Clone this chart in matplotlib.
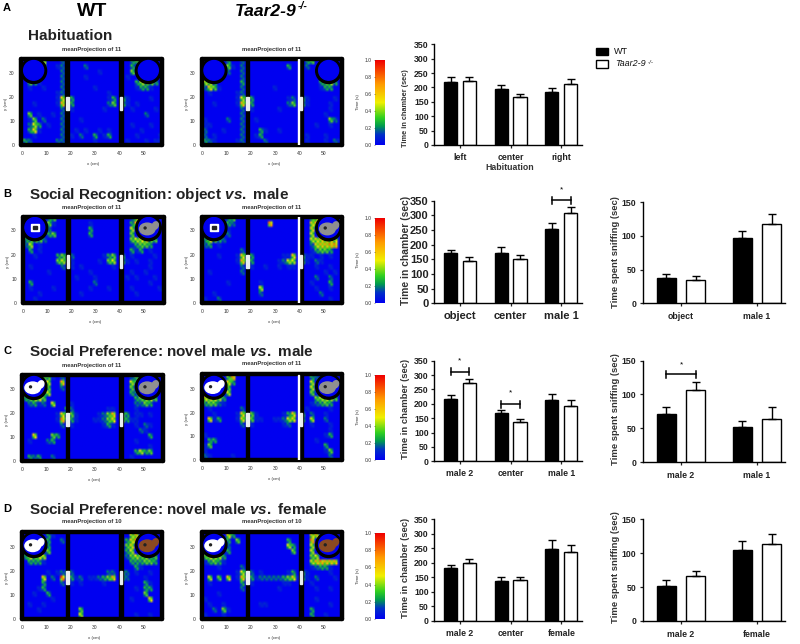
import numpy as np
import matplotlib
matplotlib.use("Agg")
import matplotlib.pyplot as plt
from matplotlib.colors import LinearSegmentedColormap
from matplotlib.patches import Circle, Ellipse, Rectangle

plt.rcParams["font.family"] = ["Liberation Sans", "DejaVu Sans"]
plt.rcParams["mathtext.fontset"] = "custom"
plt.rcParams["mathtext.rm"] = "Liberation Sans:bold"
plt.rcParams["mathtext.it"] = "Liberation Sans:italic:bold"

W, H = 800, 644

# Time in chamber: bar height and upper error
chamber_labels = [["left", "center", "right"],
                  ["object", "center", "male 1"],
                  ["male 2", "center", "male 1"],
                  ["male 2", "center", "female"]]
chamber_wt = [[220, 195, 183], [172, 170, 255], [218, 167, 215], [182, 137, 249]]
chamber_wt_err = [[18, 13, 15], [9, 22, 18], [14, 13, 20], [10, 16, 29]]
chamber_ko = [[224, 166, 212], [145, 150, 307], [271, 135, 191], [201, 141, 238]]
chamber_ko_err = [[14, 10, 16], [13, 15, 23], [17, 11, 24], [12, 9, 23]]

# Time spent sniffing (panels B, C, D)
sniff_labels = [["object", "male 1"], ["male 2", "male 1"], ["male 2", "female"]]
sniff_wt = [[37, 97], [71, 52], [52, 104]]
sniff_wt_err = [[7, 10], [10, 9], [9, 14]]
sniff_ko = [[35, 118], [106, 63], [66, 114]]
sniff_ko_err = [[5, 15], [12, 18], [8, 14]]

time_ticks = [0, 50, 100, 150, 200, 250, 300, 350]
sniff_ticks = [0, 50, 100, 150]

# columns: left chamber | wall | center chamber | wall | right chamber
heat_a_wt = [
    "000050002 0 00000000000 0 03400000",
    "000040012 0 00020000000 0 03000000",
    "000020002 0 00000010000 0 04000000",
    "010000002 0 00010000000 0 10000000",
    "043100002 0 00000000000 0 00354430",
    "010010002 0 00000100000 0 00133100",
    "000000012 0 00000000100 0 00000000",
    "000000016 3 30000000130 3 10000100",
    "001000017 3 30000000240 3 10100000",
    "000000002 0 10000001000 0 01000010",
    "040100102 0 00000000000 0 00002000",
    "014020002 0 00100000000 0 00000000",
    "025301002 0 00000000000 0 01000100",
    "036100002 0 01010010100 0 00010000",
    "001000002 0 10200301300 0 00100001",
    "320000022 0 00000100000 0 10001011",
]
heat_a_ko = [
    "000003002 0 00000000000 0 34000000",
    "000004102 0 00000000300 0 20000000",
    "000002002 0 00000000000 0 00000000",
    "010000002 0 00000000000 0 00000000",
    "553000003 0 00000000000 0 00034530",
    "264100002 0 00000100000 0 00013300",
    "010000012 0 00000000000 0 00000000",
    "000000015 3 30000000120 3 10000010",
    "001000017 3 30000000240 3 10000100",
    "000000002 0 10000010000 0 00000100",
    "000000002 0 00000000000 0 00001000",
    "100002002 0 01000000000 0 00000420",
    "110000002 0 00000000000 0 00100100",
    "200010002 0 00310010000 0 00000000",
    "201000002 0 01300000000 0 10001000",
    "321000012 0 00020000000 0 10001021",
]
heat_b_wt = [
    "000003400 0 00000000000 0 02600000",
    "000004100 0 00001000000 0 03700000",
    "000002000 0 00003000000 0 05000000",
    "010003400 0 00003000000 0 04000000",
    "344420000 0 00000000000 0 04566440",
    "250100000 0 00000000000 0 01344300",
    "030100000 0 00000000000 0 03130100",
    "001000034 3 20000001340 3 01000010",
    "000000045 3 10000010450 3 10100100",
    "010000002 0 10100000010 0 00000100",
    "000001000 0 00001000000 0 01001000",
    "000000000 0 01000100000 0 10100010",
    "030000000 0 00000200000 0 00000100",
    "010000100 0 00001000100 0 01000001",
    "000100000 0 00100000000 0 00100000",
    "001000000 0 00000000000 0 00000000",
]
heat_b_ko = [
    "000003400 0 00000000000 0 04600000",
    "000003200 0 00008000000 0 06700000",
    "000001000 0 00000000000 0 06000000",
    "100002000 0 00000000000 0 05000000",
    "364320000 0 00000000000 0 05677760",
    "230100000 0 00000000000 0 02677880",
    "000000002 0 00000000000 0 01344300",
    "000100016 3 30000001160 3 11010100",
    "000000017 3 30000012550 3 10210000",
    "000000002 0 10010010110 0 00100100",
    "010000002 0 00000000000 0 00001010",
    "000000000 0 00000000000 0 00200200",
    "000001000 0 00100000000 0 01000300",
    "000000000 0 00500000000 0 00100100",
    "001000000 0 00200000000 0 00020000",
    "100200000 0 00000000000 0 00000100",
]
heat_c_wt = [
    "000044102 0 00000000000 0 02400000",
    "000005007 0 00000000000 0 05300000",
    "000034002 0 00000000000 0 04000000",
    "010035000 0 00000000000 0 03200000",
    "345640000 0 00000000000 0 00345540",
    "023120500 0 10000000000 0 00224300",
    "000000000 3 20000000110 0 00100000",
    "000000016 3 41000012470 4 30110100",
    "000000018 3 31000112460 4 31100000",
    "000000002 0 10000001310 0 00102100",
    "000000000 0 00000000000 0 00021000",
    "006000430 0 00000000000 0 00000300",
    "010002300 0 00000000000 0 00100000",
    "000000000 0 00000000000 0 00000100",
    "000000000 0 00000000000 0 00353400",
    "032300200 0 00000000000 0 01000000",
]
heat_c_ko = [
    "000004800 0 00000000000 0 03200000",
    "000006300 0 00000000000 0 05000000",
    "000004000 0 00000000000 0 05000000",
    "000005000 0 00000000000 0 04100000",
    "666530000 0 00000000000 0 00456540",
    "344210000 0 00000000000 0 01234300",
    "010000002 0 00000000000 0 10000100",
    "001000016 3 41000001360 3 02001000",
    "061300016 3 41100112560 3 05002000",
    "000000002 0 10000001200 0 01000100",
    "000000000 0 00000000000 0 00000100",
    "100000000 0 00000000000 0 00001300",
    "033000000 0 00000000000 0 00100000",
    "140000000 0 00000000000 0 00003000",
    "100000000 0 00000000000 0 00001400",
    "210000100 0 00000000000 0 00000200",
]
heat_d_wt = [
    "000003100 0 00000000000 0 05700000",
    "000003002 0 00000000000 0 36800000",
    "000003000 0 00000000000 0 46000000",
    "010004000 0 00000000000 0 35000000",
    "364650000 0 00000000000 0 24545340",
    "033310000 0 00000000000 0 03334430",
    "000000000 0 00000000000 0 00310000",
    "000001012 2 20000000220 3 20100100",
    "000060209 2 31201123470 3 20001000",
    "000030002 0 10100001000 0 00003100",
    "000130000 0 00000000000 0 00103300",
    "001003000 0 00000000000 0 00004000",
    "000000100 0 00000000000 0 01000600",
    "010010000 0 00000000000 0 00000000",
    "000100000 0 00400000000 0 00000000",
    "000000000 0 00500000000 0 00100100",
]
heat_d_ko = [
    "000006300 0 00000000000 0 06700000",
    "000003040 0 00000000300 0 08000000",
    "000002000 0 00000000530 0 05000000",
    "100003000 0 00000000040 0 05000000",
    "465530000 0 00000000000 0 04500000",
    "134310000 0 00000000000 0 05787770",
    "000100002 0 00000000000 0 01233100",
    "000000015 3 20100000130 3 10000100",
    "050406017 3 31222223461 3 10200010",
    "010000003 0 10000001100 0 01000000",
    "000000002 0 00000010000 0 00100100",
    "000100000 0 00000000000 0 00000000",
    "100000000 0 00000000000 0 00100000",
    "010010000 0 00110000000 0 00000100",
    "002041000 0 00000000000 0 03000000",
    "100010000 0 00000000000 0 03001000",
]

heat_cmap = LinearSegmentedColormap.from_list(
    "heat", [(0.0, "#0000f0"), (0.12, "#0030c8"), (0.22, "#009a50"), (0.32, "#30d020"),
             (0.5, "#f0f000"), (0.72, "#ff9a00"), (1.0, "#f00000")])


def px_axes(x0, x1, y0, y1):
    return fig.add_axes([x0 / W, 1 - y1 / H, (x1 - x0) / W, (y1 - y0) / H])


def px_text(x, y, s, **kw):
    kw.setdefault("ha", "left")
    kw.setdefault("va", "center")
    kw.setdefault("color", "#111111")
    return fig.text(x / W, 1 - y / H, s, **kw)


def draw_heat(frame, x_zero, y_zero, grid, title, title_x, title_y, left_obj, right_obj, white_line):
    x0, x1, y0, y1 = frame
    ax = px_axes(x0 + 2, x1 - 2, y0 + 2, y1 - 2)
    cells = np.array([[int(c) for c in row.replace(" ", "").ljust(30, "0")[:30]] for row in grid]) / 10
    # split each cell in four so the map reads as speckle rather than smooth blobs
    cells = np.kron(cells, [[1.0, 0.55], [0.45, 0.9]])
    ax.imshow(cells, extent=(0.5, 57.5, 0.5, 36), cmap=heat_cmap, vmin=0, vmax=1,
              interpolation="bilinear", aspect="auto", zorder=1)
    ax.set_xlim((x0 + 2 - x_zero) / 2.44, (x1 - 2 - x_zero) / 2.44)
    ax.set_ylim((y_zero - y1 + 2) / 2.42, (y_zero - y0 - 2) / 2.42)
    ax.set_facecolor("#0000f0")
    for s in ax.spines.values():
        s.set_linewidth(3.2)
        s.set_color("black")
        s.set_capstyle("round")
    ax.set_xticks([0, 10, 20, 30, 40, 50])
    ax.set_yticks([0, 10, 20, 30])
    ax.tick_params(labelsize=3.6, length=1, width=0.4, pad=3.5, colors="#333333")

    # walls and doors
    for wx in (18.7, 40.6):
        ax.add_patch(Rectangle((wx - 0.75, 0), 1.5, 36, color="black", zorder=2))
        ax.add_patch(Rectangle((wx - 0.5, 14.5), 1.0, 5.5, color="#e8eef0", zorder=3))
    if white_line:
        ax.add_patch(Rectangle((39.4, 0), 0.5, 36, color="white", zorder=3))

    # cups
    for cx, obj in ((4.9, left_obj), (51.9, right_obj)):
        ax.add_patch(Circle((cx, 31.0), 5.3, color="black", zorder=4))
        ax.add_patch(Circle((cx, 31.2), 4.1, color="#0000f0", zorder=5))
        if obj == "square":
            ax.add_patch(Rectangle((cx - 1.6, 29.6), 3.2, 3.2, color="white", zorder=6))
            ax.add_patch(Rectangle((cx - 0.7, 30.5), 1.4, 1.4, color="#222222", zorder=7))
        elif obj is not None:
            ax.add_patch(Ellipse((cx - 0.5, 30.6), 6.4, 4.8, color=obj, zorder=6))
            ax.add_patch(Ellipse((cx + 2.8, 32.0), 2.4, 3.2, angle=-25, color=obj, zorder=6))
            ax.add_patch(Circle((cx - 1.4, 31.0), 0.4, color="#222222", zorder=7))

    px_text(title_x, title_y, title, fontsize=4.2, ha="center", fontweight="bold", color="#333333")
    px_text((x0 + x1) / 2 + 2, y1 + 17, "x (cm)", fontsize=3.2, ha="center", color="#333333")
    px_text(x0 - 13, (y0 + y1) / 2 + 2, "y (cm)", fontsize=3.2, ha="center", rotation=90, color="#333333")


def draw_colorbar(y0, y1):
    ax = px_axes(375, 385, y0, y1)
    ax.imshow(np.linspace(1, 0, 200).reshape(-1, 1), cmap=heat_cmap, vmin=0, vmax=1,
              extent=(0, 1, 0, 1), aspect="auto")
    ax.set_xticks([])
    ax.set_yticks([0, 0.2, 0.4, 0.6, 0.8, 1.0])
    ax.set_yticklabels(["0.0", "0.2", "0.4", "0.6", "0.8", "1.0"])
    ax.tick_params(labelsize=3.6, length=1, width=0.4, pad=1.5, colors="#333333")
    for s in ax.spines.values():
        s.set_visible(False)
    px_text(358, (y0 + y1) / 2, "Time (s)", fontsize=3.2, ha="center", rotation=90, color="#333333")


def draw_bars(rect, wt, wt_err, ko, ko_err, labels, xlim, offset, width, ymax, yticks, font, pad):
    ax = px_axes(*rect)
    pos = np.arange(len(labels))
    zeros = np.zeros(len(labels))
    ax.bar(pos - offset, wt, width, color="black", edgecolor="black", linewidth=1)
    ax.bar(pos + offset, ko, width, color="white", edgecolor="black", linewidth=1)
    ax.errorbar(pos - offset, wt, yerr=[zeros, wt_err], fmt="none", ecolor="black", elinewidth=1, capsize=3, capthick=1)
    ax.errorbar(pos + offset, ko, yerr=[zeros, ko_err], fmt="none", ecolor="black", elinewidth=1, capsize=3, capthick=1)
    ax.set_xlim(*xlim)
    ax.set_ylim(0, ymax)
    ax.set_xticks(pos)
    ax.set_xticklabels(labels)
    ax.set_yticks(yticks)
    ax.tick_params(labelsize=font, length=2.5, width=0.9, pad=pad, colors="#222222")
    ax.tick_params(axis="x", pad=pad + 1.5)
    for lab in ax.get_xticklabels() + ax.get_yticklabels():
        lab.set_fontweight("bold")
    ax.spines["top"].set_visible(False)
    ax.spines["right"].set_visible(False)
    ax.spines["left"].set_linewidth(1)
    ax.spines["bottom"].set_linewidth(1)
    return ax


def bracket(ax, center, offset, y, star_y, cap):
    ax.plot([center - offset, center + offset], [y, y], color="black", lw=1.1, clip_on=False)
    for xb in (center - offset, center + offset):
        ax.plot([xb, xb], [y - cap, y + cap], color="black", lw=1.1, clip_on=False)
    ax.text(center, star_y, "*", fontsize=6, ha="center", va="center", clip_on=False)


fig = plt.figure(figsize=(W / 100, H / 100), dpi=100)

# headings
px_text(92, 11, "WT", fontsize=14, ha="center", color="black", fontweight="bold")
px_text(235, 11, "Taar2-9", fontsize=12.6, style="italic", color="black", fontweight="bold")
px_text(298, 6, "-/-", fontsize=7.5, style="italic", color="black", fontweight="bold")
for y, letter in zip((8, 194, 351, 509), "ABCD"):
    px_text(3, y, letter, fontsize=8, fontweight="bold", color="black")
px_text(28, 36, "Habituation", fontsize=11, fontweight="bold", color="#222222")
px_text(29, 195, r"Social Recognition: object $\mathit{vs.}$ male", fontsize=11, fontweight="bold", color="#222222")
px_text(29, 352, r"Social Preference: novel male $\mathit{vs.}$ male", fontsize=11, fontweight="bold", color="#222222")
px_text(29, 510, r"Social Preference: novel male $\mathit{vs.}$ female", fontsize=11, fontweight="bold", color="#222222")

# heat maps
draw_heat((19, 164, 57, 147), 21.7, 146, heat_a_wt, "meanProjection of 11", 92, 50, None, None, False)
draw_heat((200, 344, 57, 147), 202, 146, heat_a_ko, "meanProjection of 11", 272, 50, None, None, True)
draw_heat((21, 166, 215, 305), 21.7, 303, heat_b_wt, "meanProjection of 11", 92, 207, "square", "#8f8f8f", False)
draw_heat((200, 344, 215, 305), 202, 303, heat_b_ko, "meanProjection of 11", 272, 207, "square", "#8f8f8f", True)
draw_heat((20, 165, 373, 463), 21.7, 462, heat_c_wt, "meanProjection of 11", 92, 365, "white", "#8f8f8f", False)
draw_heat((200, 344, 372, 462), 202, 462, heat_c_ko, "meanProjection of 11", 272, 364, "white", "#8f8f8f", True)
draw_heat((20, 164, 530, 621), 21.7, 620, heat_d_wt, "meanProjection of 10", 92, 522, "white", "#8a4a22", False)
draw_heat((200, 344, 530, 621), 202, 620, heat_d_ko, "meanProjection of 10", 272, 522, "white", "#8a4a22", False)

for cb_y0, cb_y1 in ((60, 145), (218, 303), (375, 460), (533, 619)):
    draw_colorbar(cb_y0, cb_y1)

# time in chamber
chamber_rects = [(434.3, 582, 44.3, 145), (434.3, 582, 200.7, 303.3), (434.3, 582, 360.7, 461.3), (434.3, 582, 519.3, 621)]
chamber_fonts = [6.3, 8, 6.3, 6.3]
chamber_axes = []
for i, rect in enumerate(chamber_rects):
    chamber_axes.append(draw_bars(rect, chamber_wt[i], chamber_wt_err[i], chamber_ko[i], chamber_ko_err[i],
                                  chamber_labels[i], (-0.507, 2.41), 0.185, 0.26, 350, time_ticks,
                                  chamber_fonts[i], 1.5))
px_text(510, 167, "Habituation", fontsize=6.3, ha="center", fontweight="bold", color="#333333")
for y, size in zip((108, 250, 409, 568), (5.3, 7.4, 6.8, 6.8)):
    px_text(406, y, "Time in chamber (sec)", fontsize=size, ha="center", rotation=90, fontweight="bold", color="#333333")

# time sniffing
sniff_rects = [(643.3, 785, 202.3, 303.3), (643.3, 785, 360.7, 462), (643.3, 785, 519.3, 621)]
sniff_axes = []
for i, rect in enumerate(sniff_rects):
    sniff_axes.append(draw_bars(rect, sniff_wt[i], sniff_wt_err[i], sniff_ko[i], sniff_ko_err[i],
                                sniff_labels[i], (-0.496, 1.368), 0.193, 0.25, 150, sniff_ticks, 6.3, 2.5))
for y in (252, 409, 567):
    px_text(615, y, "Time spent sniffing (sec)", fontsize=6.8, ha="center", rotation=90, fontweight="bold", color="#333333")

# significance brackets
bracket(chamber_axes[1], 2, 0.185, 352, 387, 12)
bracket(chamber_axes[2], 0, 0.185, 312, 350, 12)
bracket(chamber_axes[2], 1, 0.185, 199, 238, 12)
bracket(sniff_axes[1], 0, 0.193, 130, 144, 5)

# legend
leg = fig.add_axes([0, 0, 1, 1], facecolor="none")
leg.set_xlim(0, W)
leg.set_ylim(H, 0)
leg.axis("off")
leg.add_patch(Rectangle((596, 48), 12, 7, facecolor="black", edgecolor="black", linewidth=1))
leg.add_patch(Rectangle((596, 60), 12, 8, facecolor="white", edgecolor="black", linewidth=1))
px_text(614, 51.5, "WT", fontsize=6.5)
px_text(615, 64, "Taar2-9", fontsize=6.5, style="italic")
px_text(648, 62, "-/-", fontsize=4.5, style="italic")

plt.savefig("out.png", dpi=100)
